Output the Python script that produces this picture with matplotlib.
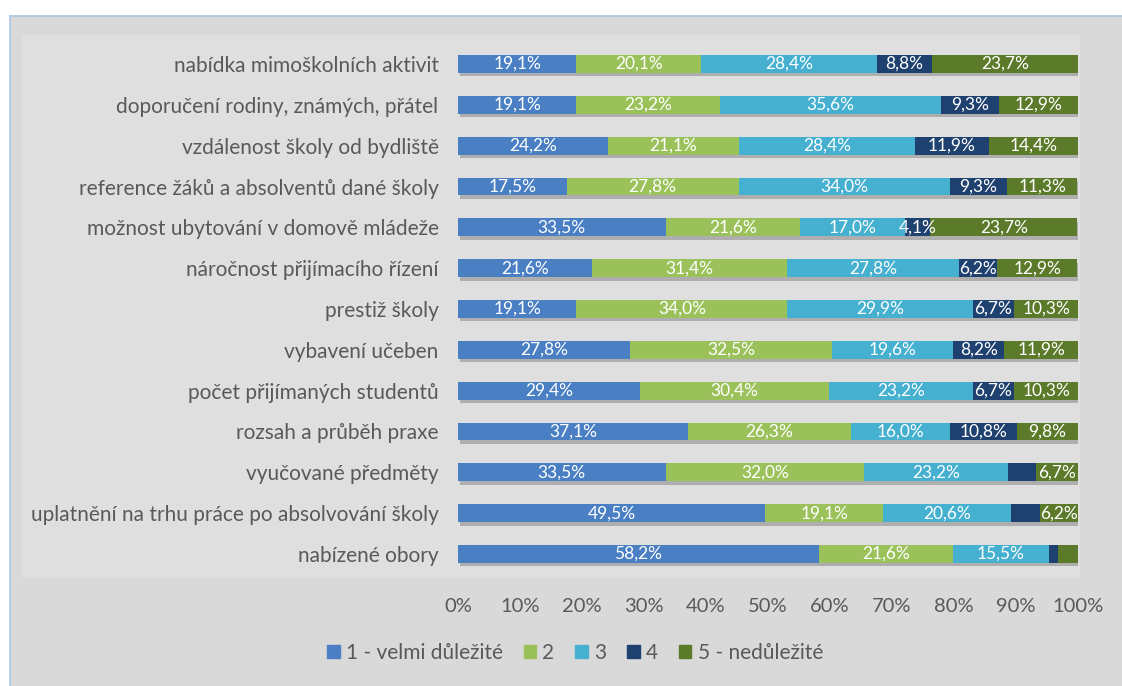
import matplotlib
matplotlib.use("Agg")
import matplotlib.pyplot as plt
import matplotlib.patches as mpatches
import matplotlib.lines as mlines
import matplotlib.patheffects as pe
import numpy as np

plt.rcParams['font.family'] = ['Lato', 'DejaVu Sans']

categories = [
    "nabídka mimoškolních aktivit",
    "doporučení rodiny, známých, přátel",
    "vzdálenost školy od bydliště",
    "reference žáků a absolventů dané školy",
    "možnost ubytování v domově mládeže",
    "náročnost přijímacího řízení",
    "prestiž školy",
    "vybavení učeben",
    "počet přijímaných studentů",
    "rozsah a průběh praxe",
    "vyučované předměty",
    "uplatnění na trhu práce po absolvování školy",
    "nabízené obory",
]
series_names = ["1 - velmi důležité", "2", "3", "4", "5 - nedůležité"]
s1 = [19.1, 19.1, 24.2, 17.5, 33.5, 21.6, 19.1, 27.8, 29.4, 37.1, 33.5, 49.5, 58.2]
s2 = [20.1, 23.2, 21.1, 27.8, 21.6, 31.4, 34.0, 32.5, 30.4, 26.3, 32.0, 19.1, 21.6]
s3 = [28.4, 35.6, 28.4, 34.0, 17.0, 27.8, 29.9, 19.6, 23.2, 16.0, 23.2, 20.6, 15.5]
s4 = [8.8, 9.3, 11.9, 9.3, 4.1, 6.2, 6.7, 8.2, 6.7, 10.8, 4.6, 4.6, 1.5]
s5 = [23.7, 12.9, 14.4, 11.3, 23.7, 12.9, 10.3, 11.9, 10.3, 9.8, 6.7, 6.2, 3.2]
# labels hidden in the reference for these (series index, row index)
hidden_labels = {(3, 10), (3, 11), (3, 12), (4, 12)}
x_ticks = [0, 10, 20, 30, 40, 50, 60, 70, 80, 90, 100]
x_tick_labels = ["0%", "10%", "20%", "30%", "40%", "50%", "60%", "70%", "80%", "90%", "100%"]

colors = ["#4a7fc4", "#9bc25a", "#45b0cf", "#1f416f", "#5b7a2a"]

W, H = 1122, 686
fig = plt.figure(figsize=(W / 100, H / 100), dpi=100)
fig.patch.set_facecolor("white")

def fx(x):
    return x / W

def fy(y):
    return 1 - y / H

# outer chart area
fig.patches.append(mpatches.Rectangle((fx(10), 0), 1 - fx(10), fy(16), transform=fig.transFigure,
                                      facecolor="#d9d9d9", edgecolor="none", zorder=-3))
fig.lines.append(mlines.Line2D([fx(10), 1], [fy(16), fy(16)], transform=fig.transFigure,
                               color="#a9c6e8", lw=1.2, zorder=-1))
fig.lines.append(mlines.Line2D([fx(10), fx(10)], [0, fy(16)], transform=fig.transFigure,
                               color="#a9c6e8", lw=1.2, zorder=-1))
# plot area
fig.patches.append(mpatches.Rectangle((fx(22), fy(578)), fx(1080) - fx(22), fy(35) - fy(578),
                                      transform=fig.transFigure, facecolor="#dfdfdf",
                                      edgecolor="none", zorder=-2))

ax = fig.add_axes([fx(458), fy(574.4), fx(1078) - fx(458), fy(43.6) - fy(574.4)])
ax.set_facecolor("none")
ax.set_zorder(1)

y = np.arange(len(categories))
data = [s1, s2, s3, s4, s5]
left = np.zeros(len(categories))
shadow = [pe.SimplePatchShadow(offset=(1.5, -2.5), shadow_rgbFace="black", alpha=0.22), pe.Normal()]
for si, (vals, col, name) in enumerate(zip(data, colors, series_names)):
    vals = np.array(vals)
    bars = ax.barh(y, vals, left=left, height=0.44, color=col, label=name, zorder=2)
    for b in bars:
        b.set_path_effects(shadow)
    for ri, v in enumerate(vals):
        if (si, ri) in hidden_labels:
            continue
        ax.text(left[ri] + v / 2, y[ri], f"{v:.1f}".replace(".", ",") + "%",
                ha="center", va="center", color="white", fontsize=12.5, zorder=3)
    left = left + vals

ax.set_xlim(0, 100)
ax.set_ylim(len(categories) - 0.5, -0.5)
ax.set_yticks(y)
ax.set_yticklabels(categories, fontsize=15, color="#595959")
ax.set_xticks(x_ticks)
ax.set_xticklabels(x_tick_labels, fontsize=14.5, color="#595959")
ax.tick_params(axis="y", length=0, pad=14)
ax.tick_params(axis="x", length=0, pad=17)
for sp in ax.spines.values():
    sp.set_visible(False)

handles = [mpatches.Patch(color=c) for c in colors]
fig.legend(handles, series_names, loc="center", bbox_to_anchor=(fx(575), fy(653)), ncol=5,
           frameon=False, fontsize=15, labelcolor="#595959", handlelength=0.6,
           handleheight=0.6, handletextpad=0.3, columnspacing=1.0)

fig.savefig("out.png", dpi=100)
